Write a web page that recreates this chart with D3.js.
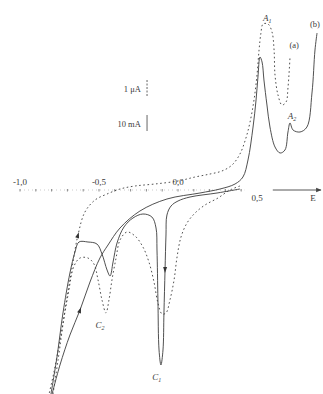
<!DOCTYPE html>
<html>
<head>
<meta charset="utf-8">
<script src="https://cdn.jsdelivr.net/npm/d3@7"></script>
<style>
  html, body { margin: 0; padding: 0; background: #fff; }
  svg { display: block; }
  text { font-family: "Liberation Serif", "DejaVu Serif", serif; fill: #3a3a3a; }
</style>
</head>
<body>
<div id="chart"></div>
<script>
const width = 323, height = 394;

// curve (a), dotted, 1 µA scale -- potential (V) / current (arb.)
const aFwdE = [-0.791, -0.759, -0.715, -0.671, -0.633, -0.589, -0.525, -0.449, -0.367, -0.272, -0.146, 0, 0.108, 0.203, 0.278, 0.342, 0.392, 0.430, 0.456, 0.481, 0.500, 0.513, 0.525, 0.538, 0.570, 0.595, 0.608, 0.614, 0.633, 0.658, 0.684, 0.696, 0.709];
const aFwdI = [-10.2, -8.5, -6, -3.9, -2.25, -1.1, -0.5, -0.2, 0.05, 0.2, 0.3, 0.45, 0.65, 0.8, 0.95, 1.25, 1.8, 2.6, 3.4, 4.5, 5.75, 7, 7.85, 8.3, 8.3, 7.9, 7, 5.75, 4.75, 4.25, 4.4, 5.1, 6.65];
const aRevE = [0.392, 0.329, 0.253, 0.171, 0.108, 0.057, 0.019, -0.006, -0.025, -0.051, -0.076, -0.101, -0.127, -0.152, -0.184, -0.222, -0.272, -0.323, -0.367, -0.392, -0.418, -0.437, -0.456, -0.481, -0.506, -0.532, -0.570, -0.620, -0.658, -0.696, -0.741, -0.785, -0.816];
const aRevI = [0.2, 0, -0.4, -0.75, -1.15, -1.65, -2.35, -3.35, -4.5, -5.5, -6.15, -6.2, -5.65, -4.6, -3.6, -2.85, -2.3, -2.1, -2.5, -3.4, -4.5, -5.5, -6.15, -5.5, -4.5, -3.7, -3.4, -3.4, -3.8, -5.25, -7.25, -9.1, -10.2];

// curve (b), solid, 10 mA scale
const bFwdE = [-0.797, -0.747, -0.684, -0.620, -0.557, -0.494, -0.443, -0.367, -0.241, -0.070, 0.139, 0.266, 0.361, 0.411, 0.443, 0.475, 0.494, 0.506, 0.519, 0.532, 0.544, 0.563, 0.582, 0.614, 0.646, 0.677, 0.696, 0.709, 0.728, 0.772, 0.816, 0.848, 0.867, 0.880];
const bFwdI = [-10.2, -8.75, -7.25, -6, -4.6, -3.4, -2.75, -1.9, -1.05, -0.45, -0.15, 0.05, 0.3, 0.65, 1.5, 3.15, 4.5, 5.65, 6.65, 6.4, 5.5, 4.25, 3.15, 2.15, 1.85, 2, 2.9, 3.35, 3, 2.9, 3.15, 4.85, 7, 7.85];
const bRevE = [0.392, 0.247, 0.076, 0, -0.044, -0.070, -0.076, -0.082, -0.089, -0.095, -0.108, -0.120, -0.127, -0.133, -0.139, -0.165, -0.222, -0.285, -0.342, -0.386, -0.411, -0.430, -0.449, -0.481, -0.513, -0.570, -0.627, -0.652, -0.684, -0.728, -0.766, -0.804];
const bRevI = [0.05, -0.15, -0.35, -0.55, -0.8, -1.25, -2.25, -4, -6.15, -8, -8.75, -8, -5.5, -3, -1.9, -1.35, -1.2, -1.4, -1.85, -2.65, -3.6, -4.3, -4, -3.2, -2.7, -2.6, -2.6, -3.1, -4.15, -6.15, -8.35, -10.2];

// axis
const minorTicks = d3.range(-10, 5).map(v => v / 10);
const tickValues = [-1, -0.5, 0, 0.5];
const tickLabels = ["-1,0", "-0,5", "0,0", "0,5"];

// peak / curve labels (position in E, I)
const peakNames = ["A", "A", "C", "C"];
const peakSubs = ["1", "2", "2", "1"];
const peakE = [0.565, 0.722, -0.494, -0.135];
const peakI = [8.45, 3.55, -6.9, -9.5];
const curveNames = ["(a)", "(b)"];
const curveE = [0.735, 0.867];
const curveI = [7.1, 8.15];

const x = d3.scaleLinear().domain([-1, 0.5]).range([20, 257]);
const y = d3.scaleLinear().domain([-10, 9.5]).range([390, 0]);

const svg = d3.select("#chart").append("svg")
    .attr("width", width)
    .attr("height", height);

svg.append("defs").append("marker")
    .attr("id", "head")
    .attr("viewBox", "0 0 10 10")
    .attr("refX", 9).attr("refY", 5)
    .attr("markerWidth", 6).attr("markerHeight", 6)
    .attr("orient", "auto")
    .append("path")
    .attr("d", "M0,1 L10,5 L0,9 Z")
    .attr("fill", "#444");

// dotted potential axis
svg.append("line")
    .attr("x1", x(-1)).attr("x2", x(0.42))
    .attr("y1", y(0)).attr("y2", y(0))
    .attr("stroke", "#aaa").attr("stroke-width", 0.6)
    .attr("stroke-dasharray", "1,3");

svg.selectAll(".minor").data(minorTicks).join("line")
    .attr("class", "minor")
    .attr("x1", d => x(d)).attr("x2", d => x(d))
    .attr("y1", y(0) - 1).attr("y2", y(0) + 1.5)
    .attr("stroke", "#888").attr("stroke-width", 1);

svg.selectAll(".tlab").data(tickValues).join("text")
    .attr("class", "tlab")
    .attr("x", d => x(d))
    .attr("y", d => d < 0.5 ? y(0) - 5 : y(0) + 11)
    .attr("text-anchor", "middle")
    .attr("font-size", 9)
    .text((d, i) => tickLabels[i]);

// E arrow
svg.append("line")
    .attr("x1", x(0.6)).attr("x2", x(0.905))
    .attr("y1", y(0)).attr("y2", y(0))
    .attr("stroke", "#444").attr("stroke-width", 0.9)
    .attr("marker-end", "url(#head)");

svg.append("text")
    .attr("x", x(0.855)).attr("y", y(0) + 11)
    .attr("text-anchor", "middle")
    .attr("font-size", 9)
    .text("E");

// scale bars
svg.append("line")
    .attr("x1", x(-0.196)).attr("x2", x(-0.196))
    .attr("y1", y(5.5)).attr("y2", y(4.7))
    .attr("stroke", "#555").attr("stroke-width", 0.9)
    .attr("stroke-dasharray", "2,1.5");
svg.append("text")
    .attr("x", x(-0.235)).attr("y", y(4.9))
    .attr("text-anchor", "end").attr("font-size", 8.5)
    .text("1 μA");

svg.append("line")
    .attr("x1", x(-0.196)).attr("x2", x(-0.196))
    .attr("y1", y(3.75)).attr("y2", y(2.95))
    .attr("stroke", "#555").attr("stroke-width", 0.9);
svg.append("text")
    .attr("x", x(-0.235)).attr("y", y(3.15))
    .attr("text-anchor", "end").attr("font-size", 8.5)
    .text("10 mA");

const line = d3.line()
    .x(d => x(d[0]))
    .y(d => y(d[1]))
    .curve(d3.curveCatmullRom.alpha(0.5));

const curves = [
    { E: aFwdE, I: aFwdI, dash: "1.6,2.6" },
    { E: aRevE, I: aRevI, dash: "1.6,2.6" },
    { E: bFwdE, I: bFwdI, dash: null },
    { E: bRevE, I: bRevI, dash: null }
];

curves.forEach(c => {
    svg.append("path")
        .attr("d", line(c.E.map((e, i) => [e, c.I[i]])))
        .attr("fill", "none")
        .attr("stroke", "#3c3c3c")
        .attr("stroke-width", 0.9)
        .attr("stroke-dasharray", c.dash);
});

// small sweep arrows, placed on a data point of a curve
const arrowCurve = [0, 2, 3];
const arrowAt = [4, 3, 7];
arrowCurve.forEach((ci, k) => {
    const c = curves[ci], j = arrowAt[k];
    const px = x(c.E[j]), py = y(c.I[j]);
    const ang = Math.atan2(y(c.I[j + 1]) - py, x(c.E[j + 1]) - px) * 180 / Math.PI;
    svg.append("path")
        .attr("d", "M3,0 L-3,-2 L-3,2 Z")
        .attr("transform", `translate(${px},${py}) rotate(${ang})`)
        .attr("fill", "#333");
});

// peak labels
peakNames.forEach((n, i) => {
    const t = svg.append("text")
        .attr("x", x(peakE[i])).attr("y", y(peakI[i]))
        .attr("text-anchor", "middle")
        .attr("font-size", 9)
        .attr("font-style", "italic");
    t.append("tspan").text(n);
    t.append("tspan").attr("font-size", 6).attr("dy", 2).text(peakSubs[i]);
});

curveNames.forEach((n, i) => {
    svg.append("text")
        .attr("x", x(curveE[i])).attr("y", y(curveI[i]))
        .attr("text-anchor", "middle")
        .attr("font-size", 8.5)
        .text(n);
});
</script>
</body>
</html>
